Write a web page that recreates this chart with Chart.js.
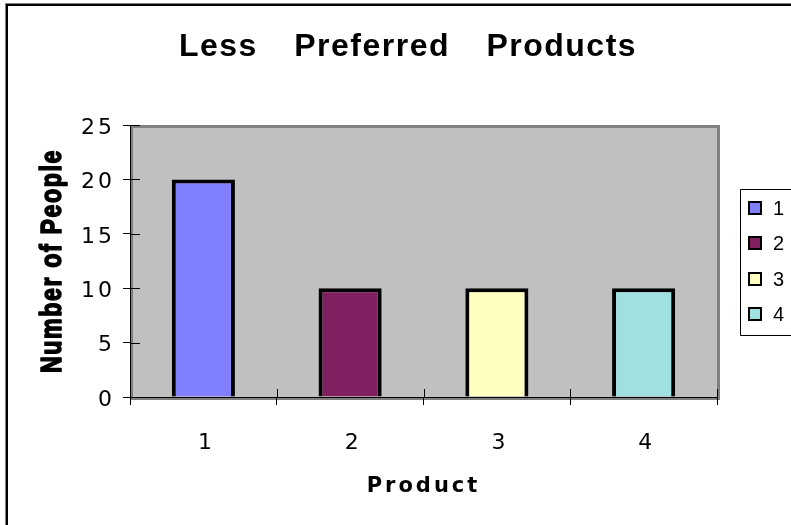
<!DOCTYPE html>
<html>
<head>
<meta charset="utf-8">
<script src="https://cdn.jsdelivr.net/npm/chart.js@4.4.1/dist/chart.umd.min.js"></script>
<style>
  html, body { margin: 0; padding: 0; background: #fff; }
  canvas { display: block; }
</style>
</head>
<body>
<canvas id="chart" width="791" height="525"></canvas>
<script>
// Survey: how many people named each product as less preferred
const chartTitle = 'Less Preferred Products';
const yAxisTitle = 'Number of People';
const xAxisTitle = 'Product';
const products = ['1', '2', '3', '4'];
const peopleCounts = [20, 10, 10, 10];
const seriesColors = ['#8080FF', '#802060', '#FFFFC0', '#A0E0E0'];
const yTicks = [0, 5, 10, 15, 20, 25];

// One series per product, each holding a single bar at its own category
const datasets = products.map((name, i) => ({
  label: name,
  data: products.map((_, j) => (j === i ? peopleCounts[i] : null)),
  backgroundColor: seriesColors[i],
  borderColor: '#000',
  borderWidth: 4,
  borderSkipped: 'bottom',
  grouped: false,
  barPercentage: 0.43,
  categoryPercentage: 1
}));

const frame = {
  id: 'frame',
  beforeDraw(chart) {
    const { ctx, chartArea: a } = chart;
    ctx.save();
    // outer chart border
    ctx.fillStyle = '#808080';
    ctx.fillRect(5, 3, 1, 530);
    ctx.fillRect(5, 3, 800, 1);
    ctx.fillStyle = '#000';
    ctx.fillRect(6, 4, 2, 530);
    ctx.fillRect(6, 4, 800, 2);
    // plot area with its dark frame
    ctx.fillStyle = '#C0C0C0';
    ctx.fillRect(a.left, a.top, a.right - a.left + 3, a.bottom - a.top + 3);
    ctx.strokeStyle = '#808080';
    ctx.lineWidth = 3;
    ctx.strokeRect(a.left + 1.5, a.top + 1.5, a.right - a.left, a.bottom - a.top);
    ctx.restore();
    // spacing for the axis texts drawn by the scales
    ctx.letterSpacing = '3px';
  },
  afterDraw(chart) {
    const { ctx, chartArea: a } = chart;
    ctx.letterSpacing = '0px';
    const xs = chart.scales.x, ys = chart.scales.y;

    // tick marks reaching into the plot area
    ctx.save();
    ctx.strokeStyle = '#000';
    ctx.lineWidth = 1;
    ctx.beginPath();
    ys.ticks.forEach((t, i) => {
      const y = Math.round(ys.getPixelForTick(i)) + 0.5;
      ctx.moveTo(a.left, y);
      ctx.lineTo(a.left + 10, y);
    });
    for (let i = 0; i <= products.length; i++) {
      const x = Math.round(xs.getPixelForValue(i - 0.5)) + 0.5;
      ctx.moveTo(x, a.bottom);
      ctx.lineTo(x, a.bottom - 8);
    }
    ctx.stroke();
    ctx.restore();

    // chart title
    ctx.save();
    ctx.fillStyle = '#000';
    ctx.font = 'bold 32px "Liberation Sans", Arial, sans-serif';
    ctx.letterSpacing = '1.5px';
    ctx.wordSpacing = '26px';
    ctx.textAlign = 'center';
    ctx.textBaseline = 'alphabetic';
    ctx.fillText(chartTitle, 408, 56);
    ctx.restore();

    // vertical axis title, tall, narrow and heavy
    ctx.save();
    ctx.fillStyle = '#000';
    ctx.strokeStyle = '#000';
    ctx.lineWidth = 1.6;
    ctx.lineJoin = 'round';
    ctx.translate(53, (a.top + a.bottom) / 2);
    ctx.rotate(-Math.PI / 2);
    ctx.scale(0.8, 1);
    ctx.font = 'bold 29px "Liberation Sans", Arial, sans-serif';
    ctx.letterSpacing = '2px';
    ctx.textAlign = 'center';
    ctx.textBaseline = 'middle';
    ctx.fillText(yAxisTitle, 0, 0);
    ctx.strokeText(yAxisTitle, 0, 0);
    ctx.restore();

    // legend box
    ctx.save();
    const lx = 740, ly = 189, lb = 335;
    ctx.strokeStyle = '#000';
    ctx.lineWidth = 1;
    ctx.beginPath();
    ctx.moveTo(820, ly + 0.5);
    ctx.lineTo(lx + 0.5, ly + 0.5);
    ctx.lineTo(lx + 0.5, lb + 0.5);
    ctx.lineTo(820, lb + 0.5);
    ctx.stroke();
    ctx.font = '20px "Liberation Sans", Arial, sans-serif';
    ctx.textAlign = 'left';
    ctx.textBaseline = 'middle';
    chart.data.datasets.forEach((ds, i) => {
      const cy = Math.round(208 + i * 35.3);
      ctx.fillStyle = '#000';
      ctx.fillRect(748, cy - 7, 14, 14);
      ctx.fillStyle = ds.backgroundColor;
      ctx.fillRect(750, cy - 5, 10, 10);
      ctx.fillStyle = '#000';
      ctx.fillText(ds.label, 773, cy + 1);
    });
    ctx.restore();
  }
};

new Chart(document.getElementById('chart'), {
  type: 'bar',
  data: { labels: products, datasets },
  options: {
    responsive: false,
    devicePixelRatio: 1,
    animation: false,
    layout: { padding: { top: 125, right: 74, bottom: 0, left: 0 } },
    plugins: {
      legend: { display: false },
      title: { display: false },
      tooltip: { enabled: false }
    },
    scales: {
      x: {
        ticks: {
          color: '#000',
          font: { family: '"DejaVu Sans", sans-serif', size: 22 },
          padding: 25,
          labelOffset: 3,
          maxRotation: 0,
          autoSkip: false
        },
        grid: { offset: true, drawOnChartArea: false, drawTicks: true, tickLength: 8, color: '#000', lineWidth: 1 },
        border: { display: true, color: '#000', width: 1 },
        title: {
          display: true,
          text: xAxisTitle,
          color: '#000',
          font: { family: '"DejaVu Sans", sans-serif', size: 21, weight: 'bold' },
          padding: { top: 0, bottom: 26 }
        },
        afterFit(scale) { scale.height = 128; }
      },
      y: {
        min: yTicks[0],
        max: yTicks[yTicks.length - 1],
        ticks: {
          stepSize: yTicks[1] - yTicks[0],
          color: '#000',
          font: { family: '"DejaVu Sans", sans-serif', size: 22 },
          padding: 8,
          labelOffset: 3
        },
        grid: { drawOnChartArea: false, drawTicks: true, tickLength: 7, color: '#000', lineWidth: 1 },
        border: { display: true, color: '#000', width: 1 },
        afterFit(scale) { scale.width = 130; }
      }
    }
  },
  plugins: [frame]
});
</script>
</body>
</html>
